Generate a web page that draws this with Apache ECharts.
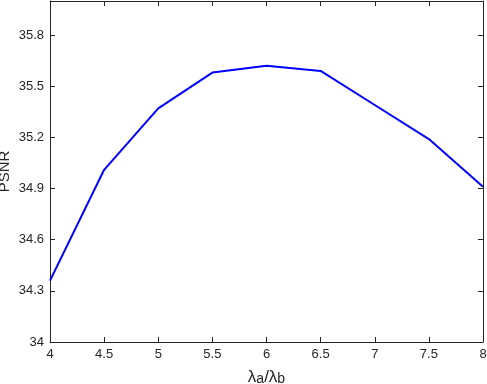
<!DOCTYPE html>
<html style="height: 100%">
<head>
<meta charset="utf-8">
<script src="https://cdn.jsdelivr.net/npm/echarts@6/dist/echarts.min.js"></script>
</head>
<body style="height: 100%; margin: 0">
<div id="container" style="width:487px;height:384px"></div>
<script type="text/javascript">
var ratios = [4, 4.5, 5, 5.5, 6, 6.5, 7, 7.5, 8];
var psnr = [34.36, 35.01, 35.37, 35.58, 35.62, 35.59, 35.39, 35.19, 34.91];

var chart = echarts.init(document.getElementById('container'));
var txt = '#262626';
var fnt = 'Liberation Sans';

var data = ratios.map(function (r, i) { return [r, psnr[i]]; });

var option = {
    animation: false,
    backgroundColor: '#fff',
    grid: { left: 50, right: 4, top: 1, bottom: 42, containLabel: false, outerBoundsMode: 'none' },
    xAxis: [{
        type: 'value', min: 4, max: 8, interval: 0.5,
        axisLine: { lineStyle: { color: txt, width: 1 } },
        axisTick: { inside: true, length: 5, lineStyle: { color: txt } },
        splitLine: { show: false },
        axisLabel: { color: txt, fontSize: 13, fontFamily: fnt, margin: 6 },
        name: '{l|λ}{s|a}{l|/λ}{s|b}',
        nameLocation: 'middle', nameGap: 27, nameMoveOverlap: false,
        nameTextStyle: {
            rich: {
                l: { fontSize: 17, fontFamily: fnt, color: txt },
                s: { fontSize: 14, fontFamily: fnt, color: txt, verticalAlign: 'bottom' }
            }
        }
    }, {
        type: 'value', min: 4, max: 8, interval: 0.5, position: 'top',
        axisLine: { lineStyle: { color: txt, width: 1 } },
        axisTick: { show: true, inside: true, length: 5, lineStyle: { color: txt } },
        axisLabel: { show: false },
        splitLine: { show: false }
    }],
    yAxis: [{
        type: 'value', min: 34, max: 36, interval: 0.3,
        axisLine: { show: true, lineStyle: { color: txt, width: 1 } },
        axisTick: { show: true, inside: true, length: 5, lineStyle: { color: txt } },
        splitLine: { show: false },
        axisLabel: {
            color: txt, fontSize: 13, fontFamily: fnt, margin: 6, showMaxLabel: false,
            formatter: function (v) { return +v.toFixed(1) + ''; }
        },
        name: 'PSNR', nameLocation: 'middle', nameGap: 38, nameMoveOverlap: false,
        nameTextStyle: { fontSize: 15, fontFamily: fnt, color: txt }
    }, {
        type: 'value', min: 34, max: 36, interval: 0.3, position: 'right',
        axisLine: { show: true, lineStyle: { color: txt, width: 1 } },
        axisTick: { show: true, inside: true, length: 5, lineStyle: { color: txt } },
        axisLabel: { show: false },
        splitLine: { show: false }
    }],
    series: [{
        type: 'line',
        data: data,
        showSymbol: false,
        symbol: 'none',
        lineStyle: { color: '#0000ff', width: 2 }
    }]
};
chart.setOption(option);
</script>
</body>
</html>
